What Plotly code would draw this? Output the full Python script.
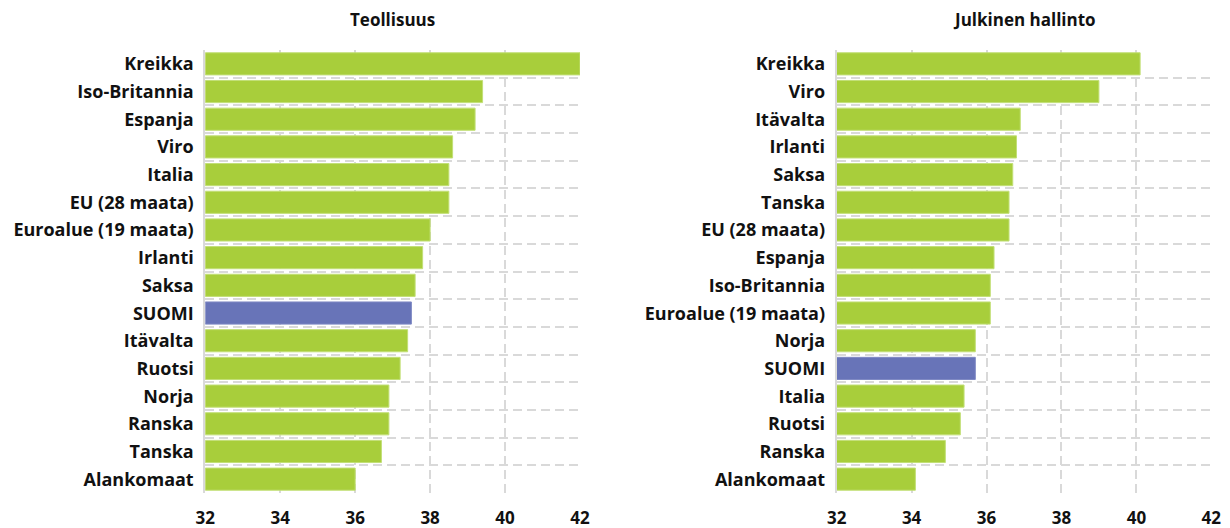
import plotly.graph_objects as go

# Teollisuus (industry)
ind_countries = ["Kreikka", "Iso-Britannia", "Espanja", "Viro", "Italia", "EU (28 maata)",
                 "Euroalue (19 maata)", "Irlanti", "Saksa", "SUOMI", "Itävalta", "Ruotsi",
                 "Norja", "Ranska", "Tanska", "Alankomaat"]
ind_values = [42.0, 39.4, 39.2, 38.6, 38.5, 38.5, 38.0, 37.8, 37.6, 37.5, 37.4, 37.2,
              36.9, 36.9, 36.7, 36.0]

# Julkinen hallinto (public administration)
pub_countries = ["Kreikka", "Viro", "Itävalta", "Irlanti", "Saksa", "Tanska", "EU (28 maata)",
                 "Espanja", "Iso-Britannia", "Euroalue (19 maata)", "Norja", "SUOMI",
                 "Italia", "Ruotsi", "Ranska", "Alankomaat"]
pub_values = [40.1, 39.0, 36.9, 36.8, 36.7, 36.6, 36.6, 36.2, 36.1, 36.1, 35.7, 35.7,
              35.4, 35.3, 34.9, 34.1]

x_ticks = [32, 34, 36, 38, 40, 42]
titles = ["Teollisuus", "Julkinen hallinto"]

GREEN = "#a8ce3b"
BLUE = "#6874b8"
GRID = "#d9d9d9"
FONT = "Open Sans"
TXT = "#111111"

fig = go.Figure()

panels = [(ind_countries, ind_values), (pub_countries, pub_values)]
domains_x = [[205.3 / 1230, 580 / 1230], [836.7 / 1230, 1211.3 / 1230]]
PLOT_TOP, PLOT_BOTTOM = 50, 493
y_dom = [1 - PLOT_BOTTOM / 528, 1 - PLOT_TOP / 528]
DASH = "9px,5px"

layout_axes = {}
for i, (cats, vals) in enumerate(panels):
    n = len(cats)
    pos = list(range(n))
    row_px = (PLOT_BOTTOM - PLOT_TOP) / n
    colors = [BLUE if c == "SUOMI" else GREEN for c in cats]
    line_colors = ["#7f89c4" if c == "SUOMI" else "#c2df76" for c in cats]
    xa = "x" if i == 0 else "x2"
    ya = "y" if i == 0 else "y2"
    fig.add_trace(go.Bar(
        x=vals, y=pos, orientation="h", base=0,
        marker=dict(color=colors, line=dict(color=line_colors, width=1)),
        width=0.8, xaxis=xa, yaxis=ya, showlegend=False, hoverinfo="x+text",
        text=cats, textposition="none",
    ))
    axis_x = dict(
        domain=domains_x[i], range=[32, 42], tickvals=x_ticks,
        showgrid=True, gridcolor=GRID, gridwidth=2, griddash=DASH,
        zeroline=False, showline=False, ticks="",
        ticklabelstandoff=13, automargin=False,
        tickfont=dict(family=FONT, size=17, color=TXT, weight="bold"),
        anchor=ya, fixedrange=True,
    )
    # ticks (and dashed gridlines) sit on the category boundaries; the labels
    # are shifted half a row so that they face the middle of their bar
    axis_y = dict(
        domain=y_dom, range=[n - 0.5, -0.5],
        tickvals=[k - 0.5 for k in range(n + 1)], ticktext=cats + [""],
        ticklabelshift=-int(round(row_px / 2)),
        showgrid=True, gridcolor=GRID, gridwidth=2, griddash=DASH,
        zeroline=False, showline=True, linecolor=GRID, linewidth=2,
        ticks="", ticklabelstandoff=6, automargin=False,
        tickfont=dict(family=FONT, size=18, color=TXT, weight="bold"),
        anchor=xa, fixedrange=True,
    )
    sfx = "" if i == 0 else "2"
    layout_axes["xaxis" + sfx] = axis_x
    layout_axes["yaxis" + sfx] = axis_y
    fig.add_annotation(
        text=titles[i], x=(domains_x[i][0] + domains_x[i][1]) / 2, y=1 - 19 / 528,
        xref="paper", yref="paper", showarrow=False, xanchor="center", yanchor="middle",
        font=dict(family=FONT, size=17, color=TXT, weight="bold"),
    )

fig.update_layout(**layout_axes)
fig.update_layout(
    width=1230, height=528,
    margin=dict(l=0, r=0, t=0, b=0),
    paper_bgcolor="white", plot_bgcolor="white",
    bargap=0.2,
)

fig.write_html("out.html", config={"displayModeBar": False},
               post_script="document.body.style.margin='0';document.body.style.overflow='hidden';")
